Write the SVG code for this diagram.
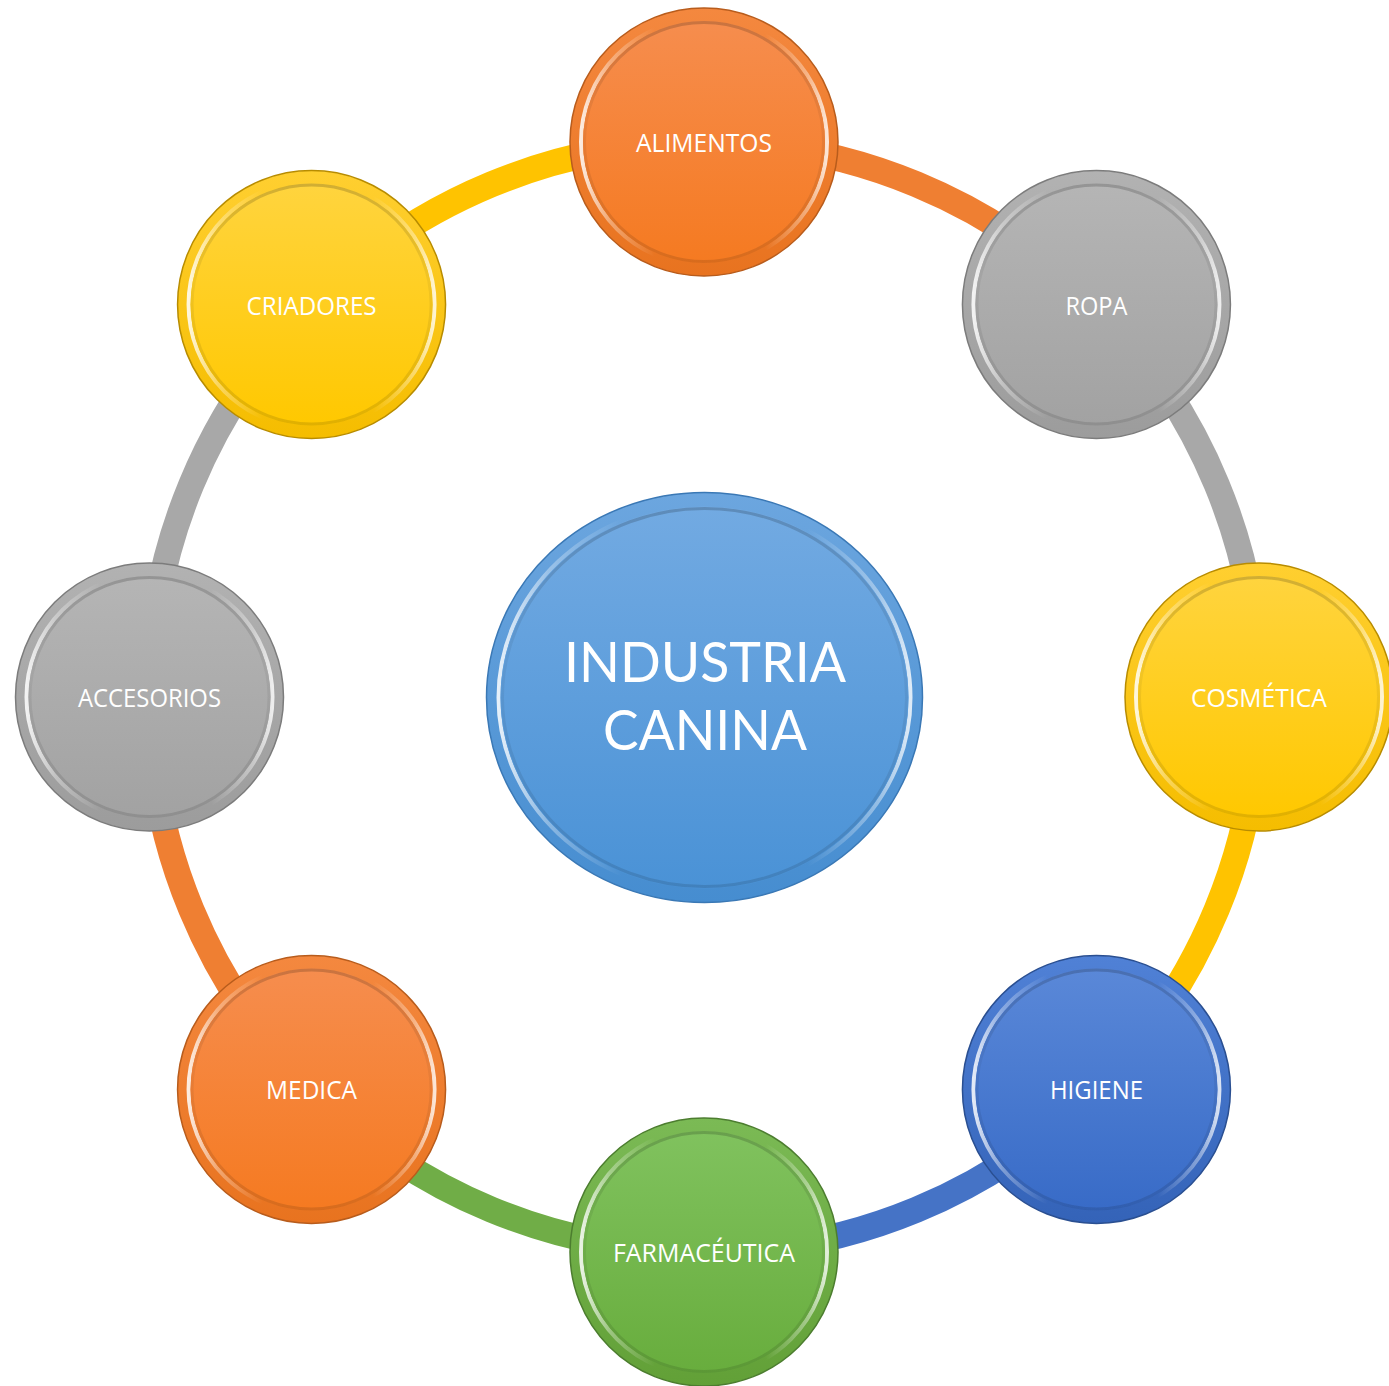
<svg xmlns="http://www.w3.org/2000/svg" width="1389" height="1386" viewBox="0 0 1389 1386">
  <style>
    .lbl { font-family: "Open Sans", "Noto Sans", "Liberation Sans", sans-serif; fill: #ffffff; text-anchor: middle; font-size: 25px; }
    .big { font-family: Lato, "Open Sans", "Liberation Sans", sans-serif; font-size: 56px; }
    .conn { fill: none; stroke-width: 26; stroke-linecap: butt; }
    .c-orange { stroke: #EF7F32; }
    .c-gray { stroke: #A8A8A8; }
    .c-yellow { stroke: #FFC300; }
    .c-blue { stroke: #4573C6; }
    .c-green { stroke: #70AD47; }
    .hl { fill: none; stroke: url(#hl); stroke-width: 4; }
    .shade { fill: none; stroke: url(#shade); stroke-width: 3; }
  </style>
  <defs>
    <linearGradient id="hl" x1="0" y1="0" x2="1" y2="0">
      <stop offset="0" stop-color="#ffffff" stop-opacity="0.85"/>
      <stop offset="0.12" stop-color="#ffffff" stop-opacity="0.35"/>
      <stop offset="0.3" stop-color="#ffffff" stop-opacity="0"/>
      <stop offset="0.75" stop-color="#ffffff" stop-opacity="0"/>
      <stop offset="0.92" stop-color="#ffffff" stop-opacity="0.4"/>
      <stop offset="1" stop-color="#ffffff" stop-opacity="0.8"/>
    </linearGradient>
    <linearGradient id="shade" x1="0" y1="0" x2="0" y2="1">
      <stop offset="0" stop-color="#000000" stop-opacity="0.18"/>
      <stop offset="0.4" stop-color="#000000" stop-opacity="0.05"/>
      <stop offset="1" stop-color="#000000" stop-opacity="0.12"/>
    </linearGradient>
    <linearGradient id="rim-orange" x1="0" y1="0" x2="0" y2="1">
      <stop offset="0" stop-color="#F4883F"/><stop offset="1" stop-color="#E8731F"/>
    </linearGradient>
    <linearGradient id="face-orange" x1="0" y1="0" x2="0" y2="1">
      <stop offset="0" stop-color="#F68D4E"/><stop offset="1" stop-color="#F57A21"/>
    </linearGradient>
    <linearGradient id="rim-gray" x1="0" y1="0" x2="0" y2="1">
      <stop offset="0" stop-color="#B2B2B2"/><stop offset="1" stop-color="#9C9C9C"/>
    </linearGradient>
    <linearGradient id="face-gray" x1="0" y1="0" x2="0" y2="1">
      <stop offset="0" stop-color="#B5B5B5"/><stop offset="1" stop-color="#A2A2A2"/>
    </linearGradient>
    <linearGradient id="rim-yellow" x1="0" y1="0" x2="0" y2="1">
      <stop offset="0" stop-color="#FFCF30"/><stop offset="1" stop-color="#F5BD00"/>
    </linearGradient>
    <linearGradient id="face-yellow" x1="0" y1="0" x2="0" y2="1">
      <stop offset="0" stop-color="#FFD43E"/><stop offset="1" stop-color="#FFC800"/>
    </linearGradient>
    <linearGradient id="rim-blue" x1="0" y1="0" x2="0" y2="1">
      <stop offset="0" stop-color="#5081D6"/><stop offset="1" stop-color="#3463B8"/>
    </linearGradient>
    <linearGradient id="face-blue" x1="0" y1="0" x2="0" y2="1">
      <stop offset="0" stop-color="#5A88D8"/><stop offset="1" stop-color="#386BC7"/>
    </linearGradient>
    <linearGradient id="rim-green" x1="0" y1="0" x2="0" y2="1">
      <stop offset="0" stop-color="#7BBA55"/><stop offset="1" stop-color="#62A037"/>
    </linearGradient>
    <linearGradient id="face-green" x1="0" y1="0" x2="0" y2="1">
      <stop offset="0" stop-color="#80C25E"/><stop offset="1" stop-color="#68AD3D"/>
    </linearGradient>
    <linearGradient id="rim-center" x1="0" y1="0" x2="0" y2="1">
      <stop offset="0" stop-color="#6CA6DF"/><stop offset="1" stop-color="#468DD0"/>
    </linearGradient>
    <linearGradient id="face-center" x1="0" y1="0" x2="0" y2="1">
      <stop offset="0" stop-color="#72AAE2"/><stop offset="1" stop-color="#4A92D6"/>
    </linearGradient>
  </defs>

  <rect width="1389" height="1386" fill="#ffffff"/>

  <g id="connectors">
    <path class="conn c-orange" d="M 704 142 A 555 555 0 0 1 1096.44 304.56"/>
    <path class="conn c-gray" d="M 1096.44 304.56 A 555 555 0 0 1 1259 697"/>
    <path class="conn c-yellow" d="M 1259 697 A 555 555 0 0 1 1096.44 1089.44"/>
    <path class="conn c-blue" d="M 1096.44 1089.44 A 555 555 0 0 1 704 1252"/>
    <path class="conn c-green" d="M 704 1252 A 555 555 0 0 1 311.56 1089.44"/>
    <path class="conn c-orange" d="M 311.56 1089.44 A 555 555 0 0 1 149 697"/>
    <path class="conn c-gray" d="M 149 697 A 555 555 0 0 1 311.56 304.56"/>
    <path class="conn c-yellow" d="M 311.56 304.56 A 555 555 0 0 1 704 142"/>
  </g>

  <g id="center">
    <ellipse cx="704.5" cy="697.5" rx="218" ry="205" fill="url(#rim-center)" stroke="#3A78B5" stroke-width="1.5"/>
    <ellipse cx="704.5" cy="697.5" rx="206" ry="193" class="hl"/>
    <ellipse cx="704.5" cy="697.5" rx="204" ry="191" fill="url(#face-center)"/>
    <ellipse cx="704.5" cy="697.5" rx="202" ry="189" class="shade"/>
    <text class="lbl big" x="705" y="682" textLength="282" lengthAdjust="spacingAndGlyphs">INDUSTRIA</text>
    <text class="lbl big" x="705" y="750" textLength="204" lengthAdjust="spacingAndGlyphs">CANINA</text>
  </g>

  <g id="alimentos" transform="translate(704 142)">
    <circle r="134" fill="url(#rim-orange)" stroke="#B85C1C" stroke-width="1.5"/>
    <circle r="123" class="hl"/>
    <circle r="121" fill="url(#face-orange)"/>
    <circle r="119.5" class="shade"/>
    <text class="lbl" x="0" y="10" textLength="136" lengthAdjust="spacingAndGlyphs">ALIMENTOS</text>
  </g>

  <g id="ropa" transform="translate(1096.44 304.56)">
    <circle r="134" fill="url(#rim-gray)" stroke="#7C7C7C" stroke-width="1.5"/>
    <circle r="123" class="hl"/>
    <circle r="121" fill="url(#face-gray)"/>
    <circle r="119.5" class="shade"/>
    <text class="lbl" x="0" y="10" textLength="62" lengthAdjust="spacingAndGlyphs">ROPA</text>
  </g>

  <g id="cosmetica" transform="translate(1259 697)">
    <circle r="134" fill="url(#rim-yellow)" stroke="#B88C00" stroke-width="1.5"/>
    <circle r="123" class="hl"/>
    <circle r="121" fill="url(#face-yellow)"/>
    <circle r="119.5" class="shade"/>
    <text class="lbl" x="0" y="10" textLength="136" lengthAdjust="spacingAndGlyphs">COSMÉTICA</text>
  </g>

  <g id="higiene" transform="translate(1096.44 1089.44)">
    <circle r="134" fill="url(#rim-blue)" stroke="#2A4F91" stroke-width="1.5"/>
    <circle r="123" class="hl"/>
    <circle r="121" fill="url(#face-blue)"/>
    <circle r="119.5" class="shade"/>
    <text class="lbl" x="0" y="10" textLength="93" lengthAdjust="spacingAndGlyphs">HIGIENE</text>
  </g>

  <g id="farmaceutica" transform="translate(704 1252)">
    <circle r="134" fill="url(#rim-green)" stroke="#4C7D2F" stroke-width="1.5"/>
    <circle r="123" class="hl"/>
    <circle r="121" fill="url(#face-green)"/>
    <circle r="119.5" class="shade"/>
    <text class="lbl" x="0" y="10" textLength="182" lengthAdjust="spacingAndGlyphs">FARMACÉUTICA</text>
  </g>

  <g id="medica" transform="translate(311.56 1089.44)">
    <circle r="134" fill="url(#rim-orange)" stroke="#B85C1C" stroke-width="1.5"/>
    <circle r="123" class="hl"/>
    <circle r="121" fill="url(#face-orange)"/>
    <circle r="119.5" class="shade"/>
    <text class="lbl" x="0" y="10" textLength="91" lengthAdjust="spacingAndGlyphs">MEDICA</text>
  </g>

  <g id="accesorios" transform="translate(149.5 697)">
    <circle r="134" fill="url(#rim-gray)" stroke="#7C7C7C" stroke-width="1.5"/>
    <circle r="123" class="hl"/>
    <circle r="121" fill="url(#face-gray)"/>
    <circle r="119.5" class="shade"/>
    <text class="lbl" x="0" y="10" textLength="143" lengthAdjust="spacingAndGlyphs">ACCESORIOS</text>
  </g>

  <g id="criadores" transform="translate(311.56 304.56)">
    <circle r="134" fill="url(#rim-yellow)" stroke="#B88C00" stroke-width="1.5"/>
    <circle r="123" class="hl"/>
    <circle r="121" fill="url(#face-yellow)"/>
    <circle r="119.5" class="shade"/>
    <text class="lbl" x="0" y="10" textLength="130" lengthAdjust="spacingAndGlyphs">CRIADORES</text>
  </g>
</svg>
